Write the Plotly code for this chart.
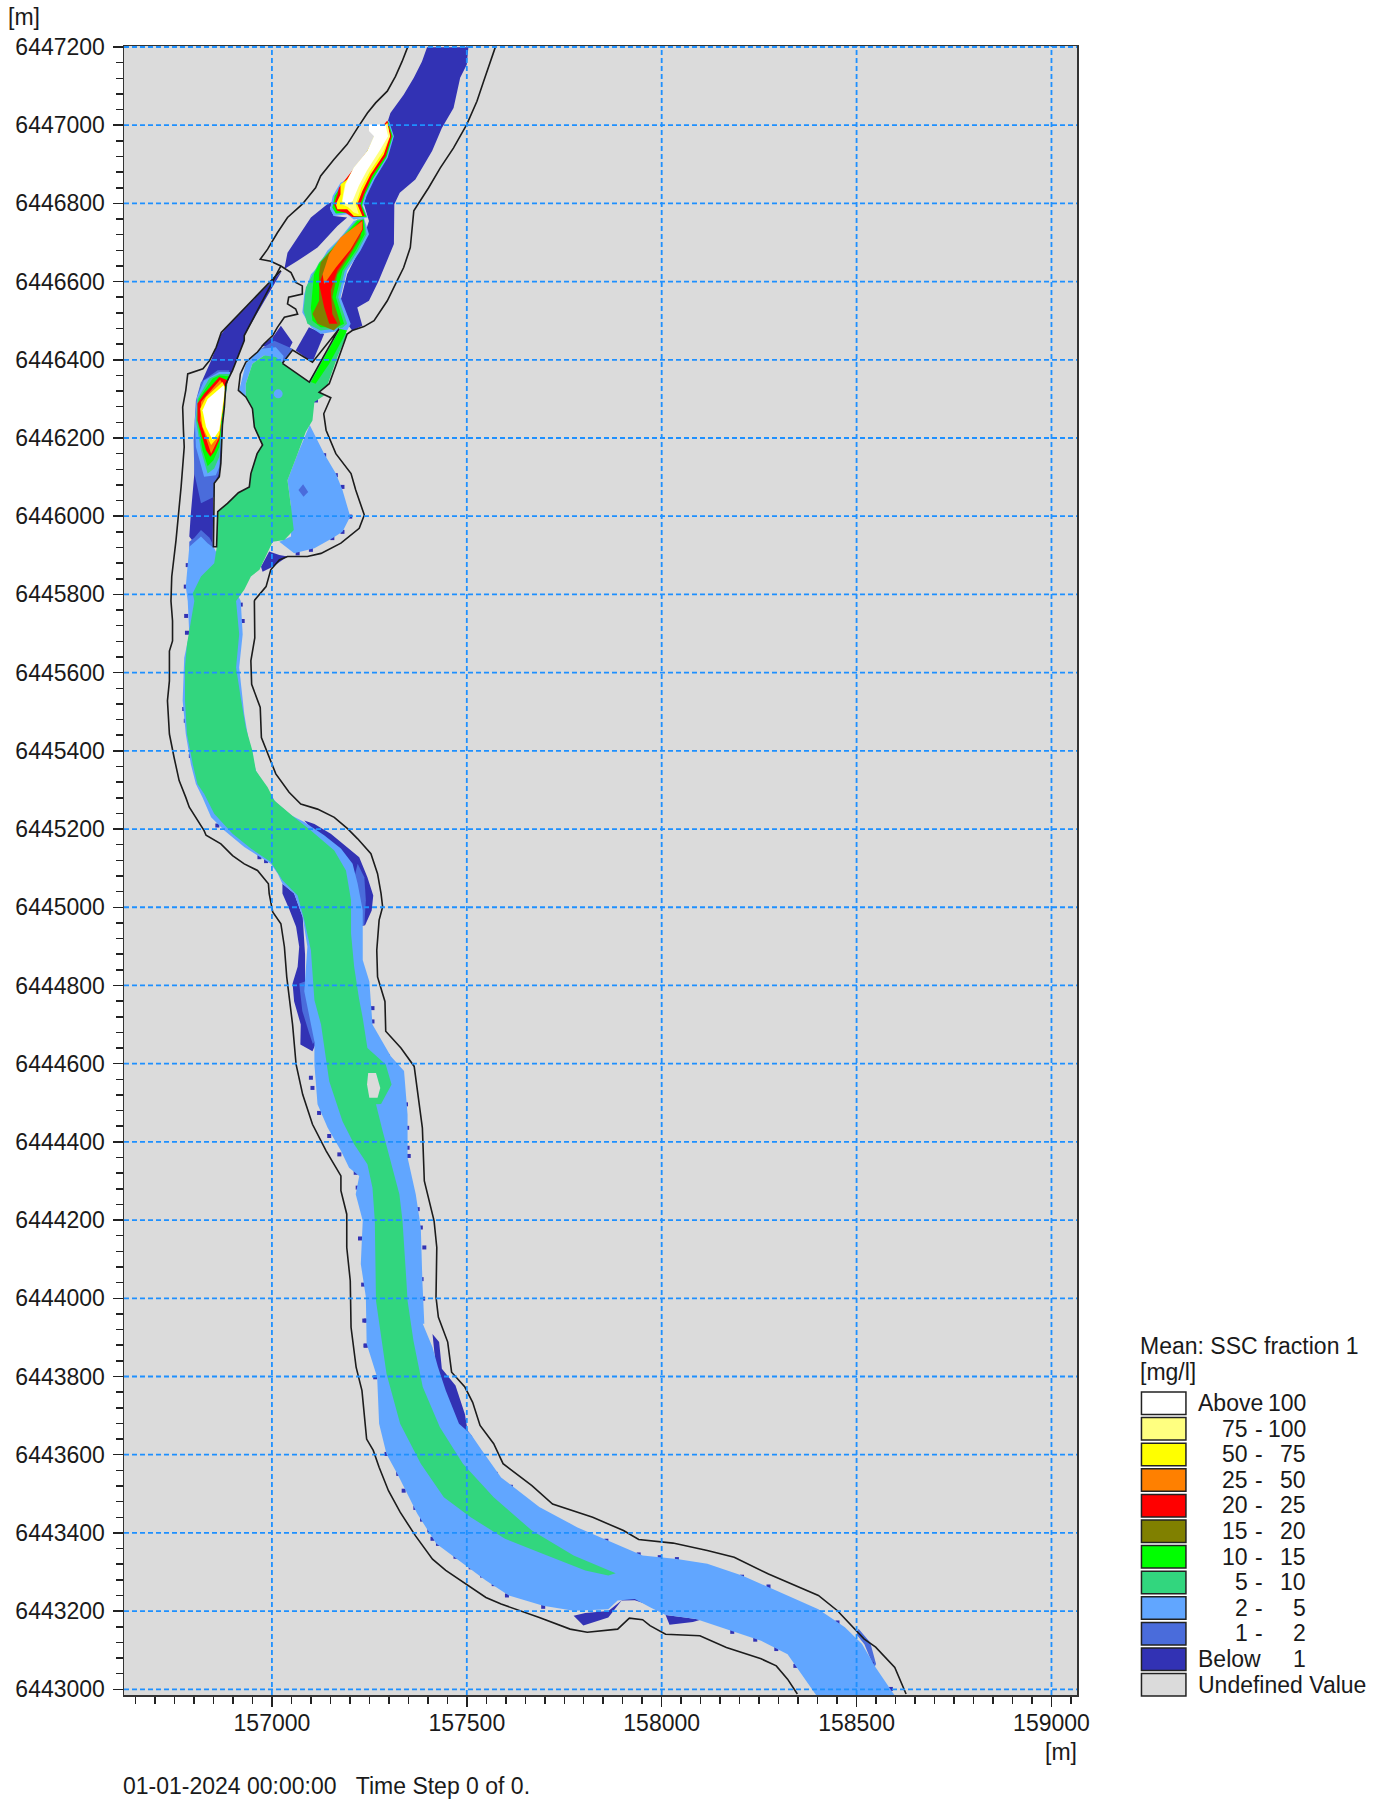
import plotly.graph_objects as go

# Map coordinates are stored in metres relative to this origin
X0 = 157000
Y0 = 6443000

X_TICKS = [157000, 157500, 158000, 158500, 159000]
Y_TICKS = [6443000 + 200 * i for i in range(22)]

LEGEND_TITLE = "Mean: SSC fraction 1"
LEGEND_UNIT = "[mg/l]"
LEGEND_FROM = ["Above", "75", "50", "25", "20", "15", "10", "5", "2", "1", "Below", "Undefined Value"]
LEGEND_TO = ["100", "100", "75", "50", "25", "20", "15", "10", "5", "2", "1", ""]
C_WHITE, C_PALE, C_YELLOW, C_ORANGE, C_RED, C_OLIVE = "#FFFFFF", "#FFFF80", "#FFFF00", "#FF8000", "#FF0000", "#808000"
C_LIME, C_GREEN, C_LIGHT, C_ROYAL, C_NAVY, C_UNDEF = "#00FF00", "#32D67E", "#61A6FF", "#4A6CDB", "#3232B4", "#DBDBDB"
LEGEND_COLORS = [C_WHITE, C_PALE, C_YELLOW, C_ORANGE, C_RED, C_OLIVE, C_LIME, C_GREEN, C_LIGHT, C_ROYAL, C_NAVY, C_UNDEF]

# ---- model boundary lines
BANK_A = [(348,4199),(334,4163),(317,4125),(296,4087),(266,4057),(245,4031),(221,3995),(193,3951),(159,3912),(125,3870),
 (112,3840),(78,3798),(40,3764),(14,3725),(-11,3683),(-30,3657),(-3,3652),(23,3640),(49,3623),(61,3598),(78,3589),(78,3568),
 (43,3560),(40,3543),(61,3530),(66,3517),(32,3509),(14,3483),(2,3462),(-20,3441),(-37,3420),(-67,3394),(-81,3364),(-86,3322),
 (-67,3305),(-50,3275),(-45,3228),(-24,3182),(-38,3160),(-54,3109),(-58,3075),(-86,3060),(-114,3033),(-139,3012),(-142,2922),
 (-150,2922),(-148,3084),(-135,3101),(-131,3135),(-127,3233),(-122,3279),(-118,3339),(-101,3373),(-71,3449),(-71,3462),(23,3640)]
BANK_B = [(23,3628),(-113,3487),(-130,3470),(-143,3432),(-160,3398),(-177,3377),(-216,3364),(-221,3322),(-229,3279),(-227,3220),
 (-225,3177),(-233,3075),(-246,2939),(-257,2846),(-259,2783),(-255,2732),(-255,2681),(-263,2655),(-263,2579),(-268,2528),
 (-263,2443),(-251,2383),(-238,2324),(-221,2281),(-212,2256),(-174,2196),(-169,2184),(-131,2162),(-101,2132),(-71,2111),
 (-37,2094),(-9,2060),(-7,2035),(2,1988),(23,1958),(32,1899),(38,1822),(53,1700),(62,1598),(79,1521),(104,1445),(139,1377),
 (177,1313),(177,1275),(192,1215),(192,1130),(201,1045),(203,926),(216,824),(231,764),(243,640),(260,611),(275,568),(299,508),
 (329,453),(368,393),(412,333),(446,304),(500,269),(549,235),(588,218),(686,184),(765,154),(809,146),(887,154),(917,182),
 (951,178),(970,163),(1010,141),(1098,137),(1166,107),(1255,78),(1294,60),(1323,26),(1348,-12)]
BANK_R = [(573,4199),(560,4163),(543,4112),(526,4061),(500,4002),(466,3942),(432,3891),(402,3840),(364,3781),(355,3687),(338,3636),
 (321,3602),(296,3551),(262,3500),(236,3485),(206,3475),(193,3466),(172,3407),(147,3339),(121,3317),(151,3303),(133,3262),
 (139,3220),(164,3160),(203,3109),(215,3067),(237,3003),(224,2969),(177,2931),(126,2905),(91,2897),(40,2897),(19,2888),(-3,2863),
 (-15,2820),(-44,2786),(-45,2783),(-44,2689),(-54,2630),(-52,2570),(-30,2511),(-27,2434),(-3,2375),(10,2341),(44,2294),(74,2264),
 (117,2251),(160,2230),(194,2201),(220,2175),(254,2137),(271,2086),(280,2035),(284,2001),(275,1967),(269,1890),(271,1822),
 (290,1759),(292,1683),(331,1640),(365,1593),(375,1521),(386,1436),(391,1300),(416,1198),(423,1130),(421,1003),(427,952),
 (451,888),(461,811),(495,773),(515,734),(534,675),(569,628),(593,577),(667,521),(720,474),(823,440),(902,406),(941,383),
 (1029,374),(1117,355),(1186,338),(1274,295),(1402,240),(1451,201),(1519,129),(1549,108),(1598,56),(1627,-12)]
POCKET = [(27,3391),(96,3343),(172,3479),(104,3394),(53,3425),(27,3391)]

# ---- below 1
NAVY_MAIN = [(398,4199),(504,4199),(500,4155),(483,4121),(466,4044),(436,3993),(411,3934),(368,3861),(328,3827),(314,3798),
 (313,3696),(296,3653),(274,3602),(249,3551),(219,3534),(232,3487),(206,3475),(193,3492),(176,3551),(193,3619),(227,3687),
 (249,3755),(236,3798),(249,3849),(279,3900),(308,3959),(296,4006),(304,4031),(338,4078),(364,4121),(385,4163)]
NAVY_BRANCH = [(159,3806),(149,3789),(159,3768),(193,3764),(168,3742),(117,3687),(66,3653),(32,3632),(40,3674),(66,3713),(100,3764),(142,3798)]
NAVY_CHANNEL = [(26,3628),(-113,3487),(-130,3466),(-156,3398),(-177,3351),(-186,3330),(-182,3339),(-191,3305),(-199,3109),(-208,3007),
 (-212,2948),(-199,2931),(-152,2918),(-150,3084),(-135,3101),(-131,3135),(-127,3233),(-118,3339),(-101,3373),(-71,3449),(-71,3462)]
NAVY_LAGOON = [(2,3458),(23,3487),(53,3445),(40,3420),(27,3394),(14,3428),(-28,3436)]
NAVY_RECT = [(95,3483),(134,3466),(104,3394),(61,3424)]
NAVY_BEND = [(83,2222),(109,2213),(151,2188),(194,2154),(224,2128),(245,2077),(260,2030),(256,1992),(239,1954),(220,1950),(190,2100)]
NAVY_LEFT = [(27,2060),(27,2035),(44,1996),(62,1950),(70,1899),(66,1848),(53,1805),(57,1759),(74,1700),(73,1649),(104,1632),
 (115,1657),(100,1725),(85,1785),(85,1880),(79,1975),(57,2035)]
NAVY_RIGHT = [(412,909),(429,888),(436,820),(471,777),(495,704),(502,662),(515,645),(470,680),(420,830)]
NAVY_BOT1 = [(774,188),(799,163),(863,184),(887,214),(897,227),(863,200),(804,195)]
NAVY_BOT2 = [(897,237),(931,240),(965,225),(970,215),(931,228),(897,227)]
NAVY_BOT3 = [(1010,190),(1020,165),(1080,172),(1100,178),(1060,184)]
NAVY_BLOB = [(-28,2871),(-7,2910),(19,2901),(40,2897),(2,2871),(-24,2858)]

# ---- 1 - 2
ROYAL_HILL = [(-212,2935),(-199,2945),(-182,2965),(-160,2945),(-150,2925),(-150,2910),(-212,2910)]
ROYAL_BEND = [(220,2111),(237,2077),(241,2018),(237,1954),(224,1954),(205,2050)]
ROYAL_LEFT = [(70,1805),(78,1735),(95,1680),(105,1650),(112,1660),(100,1725),(85,1785),(85,1810)]
ROYAL_LAGOON = [(-28,3428),(6,3449),(53,3428),(27,3391),(10,3420)]
ROYAL_PLUME = [(-182,3343),(-195,3296),(-201,3194),(-199,3109),(-182,3033),(-148,3050),(-148,3084),(-135,3109),(-127,3233),(-118,3339),(-109,3373),(-139,3373)]
ROYAL_RIGHT = [(1500,140),(1520,115),(1545,55),(1550,65),(1535,120),(1505,155)]
ROYAL_DIAMOND = [(80,3082),(93,3062),(81,3050),(68,3067)]

# ---- 2 - 5
LB_RIVER = [(-148,2918),(-165,2931),(-182,2948),(-200,2931),(-212,2922),(-221,2820),(-216,2783),(-212,2698),(-225,2638),(-229,2528),(-221,2443),
 (-208,2366),(-195,2315),(-178,2281),(-156,2230),(-122,2196),(-71,2154),(-3,2111),(15,2086),(27,2060),(57,2035),(79,1975),(91,1899),
 (83,1785),(109,1657),(109,1598),(117,1496),(143,1436),(177,1377),(198,1334),(224,1313),(215,1266),(233,1198),(228,1088),(241,1003),
 (243,884),(270,798),(275,679),(294,602),(324,547),(373,449),(422,372),(490,321),(549,278),(608,240),(696,214),(774,201),(863,205),
 (887,227),(931,231),(970,210),(1010,190),(1088,180),(1176,150),(1255,124),(1323,90),(1353,48),(1397,-16),
 (1598,-16),(1549,56),(1514,116),(1470,159),(1402,205),(1274,261),(1206,291),(1117,321),(1039,333),(951,342),(882,372),(784,414),
 (686,466),(588,542),(539,611),(510,653),(480,679),(446,764),(426,824),(412,875),(387,935),(391,935),(386,1045),(382,1181),(369,1266),
 (348,1360),(348,1470),(339,1581),(305,1619),(258,1700),(250,1810),(233,1865),(233,1933),(233,1992),(220,2060),(207,2111),(177,2150),
 (134,2184),(83,2218),(49,2235),(10,2269),(-11,2298),(-41,2349),(-58,2417),(-71,2494),(-84,2613),(-75,2698),(-80,2783)]
LB_LOBE = [(97,3233),(117,3194),(134,3160),(164,3109),(181,3067),(201,2999),(181,2960),(156,2944),(109,2918),(57,2905),(19,2935),(49,2948),(49,3024),(40,3092),(66,3160)]
LB_LAGOON = [(-84,3322),(-67,3390),(-28,3428),(10,3432),(30,3410),(27,3391),(-20,3411),(-50,3390),(-67,3339),(-67,3305)]
LB_PLUME_W = [(-174,3347),(-192,3305),(-198,3245),(-195,3177),(-174,3101),(-144,3105),(-135,3126),(-129,3237),(-114,3339),(-107,3369),(-135,3369)]
LB_UP = [(300,4012),(313,3972),(297,3917),(263,3861),(243,3819),(234,3793),(246,3764),(210,3759),(193,3772),(159,3768),(149,3785),(156,3819),(176,3853),(193,3861),(245,3934),(266,3976)]
LB_LOW = [(236,3764),(249,3721),(227,3679),(193,3628),(176,3560),(202,3492),(193,3475),(176,3475),(125,3466),(100,3483),(78,3521),(83,3568),(100,3619),(117,3636),(142,3679),(176,3713),(210,3755)]

# ---- 5 - 10
GREEN_MAIN = [(-20,3411),(-50,3390),(-67,3339),(-67,3305),(-50,3275),(-45,3228),(-24,3182),(-38,3160),(-54,3109),(-58,3075),(-86,3060),
 (-114,3033),(-139,3012),(-142,2918),(-148,2880),(-182,2846),(-203,2803),(-199,2783),(-218,2672),(-223,2613),(-223,2528),(-218,2443),
 (-203,2366),(-191,2315),(-174,2290),(-148,2239),(-101,2188),(-54,2150),(-3,2116),(27,2069),(66,2030),(83,1967),(100,1890),(109,1763),
 (126,1700),(147,1555),(181,1453),(211,1394),(245,1343),(258,1283),(264,1198),(267,1045),(267,994),(294,807),(329,679),(382,577),
 (441,491),(510,440),(598,385),(706,342),(804,304),(863,291),(882,297),(774,342),(667,406),(569,491),(490,577),(431,670),(387,773),
 (363,892),(348,994),(345,1045),(335,1198),(327,1266),(301,1360),(284,1428),(267,1496),(280,1497),(307,1547),(292,1598),(245,1640),
 (233,1717),(215,1810),(224,1763),(211,1848),(203,1933),(203,2018),(190,2094),(160,2145),(100,2196),(57,2230),(6,2273),(-11,2307),
 (-41,2349),(-50,2400),(-67,2460),(-80,2536),(-92,2613),(-84,2698),(-92,2783),(-71,2812),(-54,2846),(-32,2863),(-7,2914),(2,2935),
 (32,2939),(56,2965),(49,3024),(40,3092),(66,3160),(87,3216),(104,3245),(109,3292),(134,3309),(117,3318),(121,3317),(142,3334),
 (168,3407),(193,3466),(176,3481),(95,3343),(27,3391),(10,3407)]
GREEN_PLUME_W = [(-161,3352),(-191,3300),(-195,3245),(-182,3169),(-165,3109),(-148,3122),(-135,3152),(-129,3237),(-115,3339),(-107,3364),(-135,3364)]
GREEN_LOW = [(236,3759),(243,3721),(221,3679),(187,3628),(170,3560),(193,3492),(181,3482),(125,3475),(91,3492),(81,3526),(87,3585),(108,3623),(121,3649),(151,3683),(185,3721),(219,3759)]

# ---- 10 - 15
LIME_STRIP = [(175,3479),(100,3343),(112,3339),(147,3390),(193,3475)]
LIME_PLUME_W = [(-152,3352),(-188,3300),(-191,3245),(-178,3169),(-165,3128),(-150,3143),(-135,3177),(-129,3237),(-115,3339),(-110,3358),(-135,3360)]
LIME_UP = [(298,4010),(310,3972),(294,3918),(260,3864),(239,3822),(231,3795),(243,3765),(210,3765),(193,3776),(164,3774),(155,3789),(161,3819),(181,3850),(195,3859),(245,3934),(266,3976)]
LIME_LOW = [(236,3759),(238,3721),(215,3679),(181,3628),(164,3560),(185,3492),(168,3483),(125,3483),(104,3500),(100,3534),(108,3619),(121,3645),(151,3679),(185,3717),(219,3755)]

# ---- 15 - 20
OLIVE_LOW = [(125,3649),(151,3679),(232,3755),(227,3713),(202,3670),(168,3619),(155,3560),(176,3492),(159,3475),(117,3492),(104,3517),(121,3551),(121,3619)]

# ---- 20 - 25
RED_PLUME_W = [(-135,3356),(-174,3313),(-191,3288),(-191,3245),(-169,3169),(-158,3152),(-148,3165),(-135,3194),(-131,3237),(-118,3330),(-112,3347)]
RED_UP = [(296,4012),(307,3972),(292,3921),(257,3870),(236,3823),(227,3798),(238,3768),(206,3765),(189,3776),(167,3781),(159,3798),(168,3823),(172,3840),(185,3857),(245,3934),(266,3976)]
RED_LOW = [(134,3628),(159,3687),(232,3759),(234,3734),(206,3683),(168,3628),(151,3577),(155,3517),(168,3492),(147,3492),(134,3534),(121,3594)]

# ---- 25 - 50
ORANGE_PLUME_W = [(-133,3349),(-182,3292),(-184,3245),(-165,3186),(-156,3160),(-135,3203),(-129,3254),(-118,3326)]
ORANGE_LOW = [(147,3670),(176,3713),(232,3755),(232,3734),(202,3683),(164,3636),(134,3594),(130,3619)]

# ---- 50 - 75
YELLOW_PLUME_W = [(-127,3343),(-169,3305),(-184,3275),(-178,3228),(-156,3182),(-135,3207),(-129,3254),(-118,3326)]
YELLOW_UP = [(296,4006),(303,3972),(287,3925),(253,3874),(232,3832),(219,3798),(232,3768),(210,3768),(193,3785),(168,3785),(164,3798),(176,3823),(176,3849),(193,3861),(245,3934),(266,3976)]

# ---- 75 - 100
PALE_UP = [(296,4004),(303,3972),(285,3932),(251,3881),(229,3840),(215,3798),(223,3772),(210,3777),(195,3791),(179,3798),(181,3815),(187,3849),(210,3891),(245,3934),(262,3972)]

# ---- above 100
WHITE_PLUME_W = [(-124,3335),(-165,3300),(-178,3271),(-169,3228),(-152,3194),(-135,3220),(-129,3262),(-121,3322)]
WHITE_UP = [(249,4002),(291,4002),(298,3972),(278,3938),(243,3883),(223,3845),(207,3806),(193,3798),(181,3806),(189,3849),(210,3891),(245,3934),(262,3972),(249,3985)]

# ---- dry cell inside the river
HOLE = [(247,1576),(267,1576),(278,1538),(271,1513),(250,1513),(244,1547)]

# ---- isolated cells below 1
SPECKS = [(237,943),(240,879),(265,798),(294,602),(324,551),(338,508),(368,464),(385,434),(404,406),(412,385),(426,372),(471,339),
 (510,312),(539,291),(569,269),(603,240),(696,211),(574,551),(613,518),(686,457),(760,418),(858,380),(941,345),(995,338),(1039,333),
 (1206,288),(1274,263),(1181,147),(1240,127),(1294,103),(1343,60),(1402,197),(1451,171),(1539,65),(1588,1),(100,1564),(104,1538),
 (121,1474),(147,1415),(173,1368),(215,1321),(220,1283),(226,1153),(234,1035),(241,943),(241,879),(344,1496),(347,1436),(348,1385),
 (351,1364),(374,1228),(382,1181),(391,1130),(384,1049),(388,999),(258,1742),(258,1708),(262,1674),(297,1619),(-220,2745),(-218,2702),
 (-225,2507),(-221,2477),(-208,2387),(-140,2209),(-80,2774),(-75,2732),(-32,2128),(-15,2118),(252,1564),(268,1561),(113,3296),
 (134,3156),(164,3105),(181,3075),(201,2999),(181,2960),(155,2944),(100,2914),(66,2905),(-221,2820),(-216,2875)]
LIGHT_DOT = [(16,3313)]

X_MIN, X_MAX = 156620.5, 159065.5
Y_MIN, Y_MAX = 6442985.5, 6447202.5

fig = go.Figure()


def poly(pts, color):
    fig.add_trace(go.Scatter(x=[X0 + p[0] for p in pts], y=[Y0 + p[1] for p in pts], mode="lines", fill="toself",
                             fillcolor=color, line=dict(width=0, color=color), hoverinfo="skip", showlegend=False))


def line(pts):
    fig.add_trace(go.Scatter(x=[X0 + p[0] for p in pts], y=[Y0 + p[1] for p in pts], mode="lines",
                             line=dict(width=1.6, color="#1c1c1c"), hoverinfo="skip", showlegend=False))


def dots(pts, color, size, symbol="square"):
    fig.add_trace(go.Scatter(x=[X0 + p[0] for p in pts], y=[Y0 + p[1] for p in pts], mode="markers",
                             marker=dict(size=size, color=color, symbol=symbol, line=dict(width=0)),
                             hoverinfo="skip", showlegend=False))


for p in [NAVY_MAIN, NAVY_BRANCH, NAVY_CHANNEL, NAVY_LAGOON, NAVY_RECT, NAVY_BEND, NAVY_LEFT, NAVY_RIGHT, NAVY_BOT1, NAVY_BOT2, NAVY_BOT3, NAVY_BLOB]:
    poly(p, C_NAVY)
for p in [ROYAL_HILL, ROYAL_BEND, ROYAL_LEFT, ROYAL_LAGOON, ROYAL_PLUME, ROYAL_RIGHT]:
    poly(p, C_ROYAL)
dots(SPECKS, C_NAVY, 4)
for p in [LB_RIVER, LB_LOBE, LB_LAGOON, LB_PLUME_W, LB_UP, LB_LOW]:
    poly(p, C_LIGHT)
poly(ROYAL_DIAMOND, C_ROYAL)
for p in [GREEN_MAIN, GREEN_PLUME_W, GREEN_LOW]:
    poly(p, C_GREEN)
dots(LIGHT_DOT, C_LIGHT, 9, "circle")
for p in [LIME_STRIP, LIME_PLUME_W, LIME_UP, LIME_LOW]:
    poly(p, C_LIME)
poly(OLIVE_LOW, C_OLIVE)
for p in [RED_PLUME_W, RED_UP, RED_LOW]:
    poly(p, C_RED)
for p in [ORANGE_PLUME_W, ORANGE_LOW]:
    poly(p, C_ORANGE)
for p in [YELLOW_PLUME_W, YELLOW_UP]:
    poly(p, C_YELLOW)
poly(PALE_UP, C_PALE)
for p in [WHITE_PLUME_W, WHITE_UP]:
    poly(p, C_WHITE)
poly(HOLE, C_UNDEF)
for p in [BANK_A, BANK_B, BANK_R, POCKET]:
    line(p)

# Grid lines sit above the fill in the reference, so they are drawn as traces from the tick lists
grid = dict(color="#1E90FF", width=1.8, dash="5px,3px")
for t in X_TICKS:
    fig.add_trace(go.Scatter(x=[t, t], y=[Y_MIN, Y_MAX], mode="lines", line=grid, hoverinfo="skip", showlegend=False))
for t in Y_TICKS:
    fig.add_trace(go.Scatter(x=[X_MIN, X_MAX], y=[t, t], mode="lines", line=grid, hoverinfo="skip", showlegend=False))

W, H = 1385, 1799
L, R, T, B = 124, 1077.5, 46, 1695
FONT = dict(family="Liberation Sans, Arial, sans-serif", size=23, color="#1a1a1a")


def px(v):
    return (v - L) / (R - L)


def py(v):
    return (B - v) / (B - T)


def text(x, y, s, anchor="left"):
    fig.add_annotation(x=px(x), y=py(y), xref="paper", yref="paper", text=s, showarrow=False, xanchor=anchor,
                       yanchor="middle", font=FONT, borderpad=0, borderwidth=0)


text(8, 17, "[m]")
text(1077, 1752, "[m]", "right")
text(123, 1786, "01-01-2024 00:00:00&nbsp;&nbsp;&nbsp;Time Step 0 of 0.")
text(1141, 1346, LEGEND_TITLE)
text(1141, 1372, LEGEND_UNIT)

for i, (a, b, c) in enumerate(zip(LEGEND_FROM, LEGEND_TO, LEGEND_COLORS)):
    top = 1392 + i * 25.6
    fig.add_shape(type="rect", xref="paper", yref="paper", x0=px(1142), x1=px(1186.5), y0=py(top), y1=py(top + 22.5),
                  fillcolor=c, line=dict(color="#222222", width=1.5))
    cy = top + 11
    if a in ("Above", "Below"):
        text(1199, cy, a)
        text(1307, cy, b, "right")
    elif a.startswith("Undefined"):
        text(1199, cy, a)
    else:
        text(1249, cy, a, "right")
        text(1260, cy, "-", "center")
        text(1307, cy, b, "right")

fig.update_layout(
    width=W, height=H, autosize=False, paper_bgcolor="white", plot_bgcolor=C_UNDEF, showlegend=False, hovermode=False,
    margin=dict(l=L, r=W - R, t=T, b=H - B, pad=0), font=FONT,
    xaxis=dict(range=[X_MIN, X_MAX], tickvals=X_TICKS, ticktext=[str(v) for v in X_TICKS], showgrid=False, zeroline=False,
               ticks="outside", ticklen=10, tickwidth=1.5, tickcolor="#222222", showline=True, mirror=True, linecolor="#333333",
               linewidth=1.5, tickfont=FONT, ticklabelstandoff=-3,
               minor=dict(dtick=50, tick0=157000, ticks="outside", ticklen=7, tickwidth=1.5, tickcolor="#222222", showgrid=False)),
    yaxis=dict(range=[Y_MIN, Y_MAX], tickvals=Y_TICKS, ticktext=[str(v) for v in Y_TICKS], showgrid=False, zeroline=False,
               ticks="outside", ticklen=10, tickwidth=1.5, tickcolor="#222222", showline=True, mirror=True, linecolor="#333333",
               linewidth=1.5, tickfont=FONT, ticklabelstandoff=3,
               minor=dict(dtick=40, tick0=6443000, ticks="outside", ticklen=7, tickwidth=1.5, tickcolor="#222222", showgrid=False)),
)

fig.write_html("out.html", config=dict(displayModeBar=False, staticPlot=True),
               post_script="document.body.style.margin='0';document.body.style.overflow='hidden';")
